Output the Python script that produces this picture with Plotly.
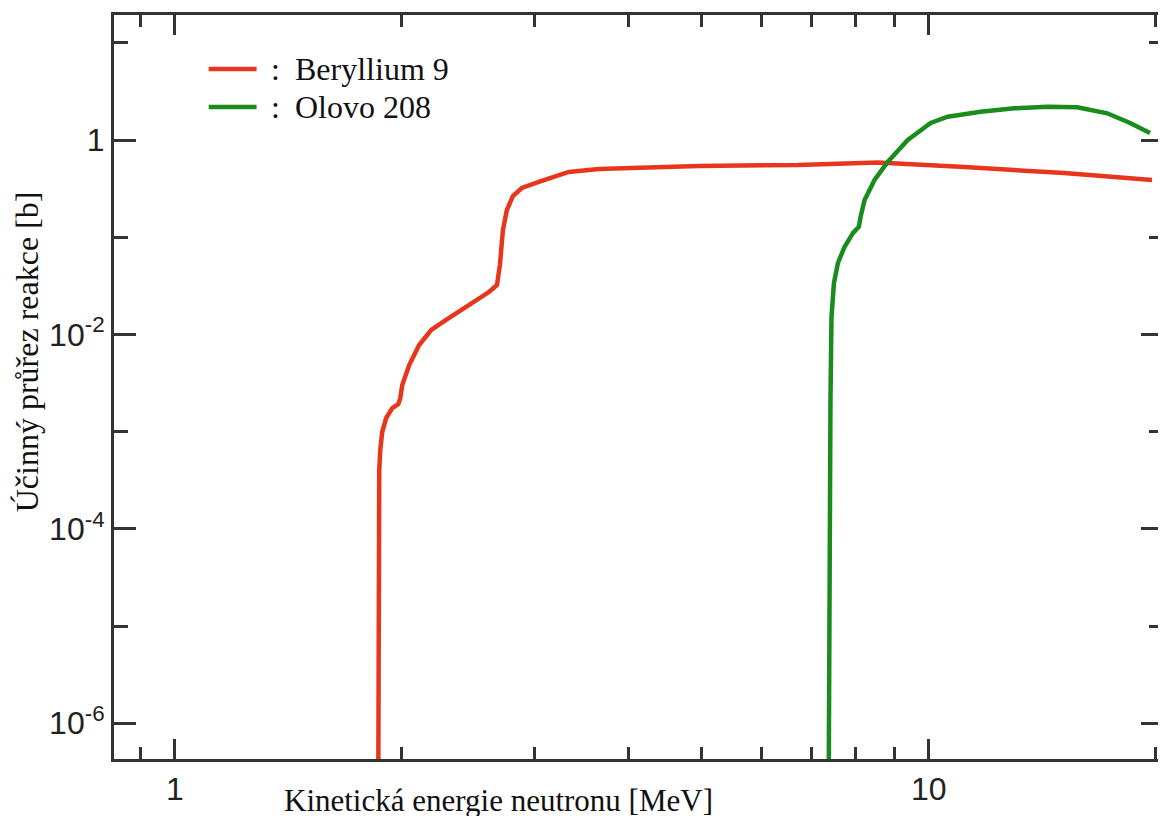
import plotly.graph_objects as go

# ---- data (energy in MeV, cross section in barn) ----
be_energy = [1.861, 1.864, 1.867, 1.873, 1.884, 1.907, 1.943, 1.979, 1.991, 2.003,
             2.046, 2.109, 2.188, 2.290, 2.433, 2.610, 2.675, 2.699, 2.724, 2.757,
             2.808, 2.886, 3.039, 3.331, 3.649, 4.949, 6.709, 8.560, 11.16, 15.13, 19.78]
be_sigma = [1e-7, 1.85e-5, 4.0e-4, 6.5e-4, 9.9e-4, 1.38e-3, 1.75e-3, 1.92e-3, 2.22e-3, 3.02e-3,
            4.84e-3, 7.78e-3, 1.11e-2, 1.41e-2, 1.91e-2, 2.73e-2, 3.22e-2, 5.17e-2, 0.1186, 0.1905,
            0.2655, 0.321, 0.370, 0.469, 0.503, 0.541, 0.553, 0.587, 0.527, 0.457, 0.388]

pb_energy = [7.364, 7.386, 7.408, 7.431, 7.487, 7.579, 7.735, 7.933, 8.079, 8.122,
             8.222, 8.475, 8.828, 9.381, 10.06, 10.60, 11.72, 12.99, 14.37, 15.74,
             17.25, 18.50, 19.66]
pb_sigma = [1e-7, 6.05e-5, 2.11e-3, 1.52e-2, 3.38e-2, 5.43e-2, 7.98e-2, 0.110, 0.128, 0.1625,
            0.241, 0.388, 0.598, 1.0, 1.496, 1.736, 1.955, 2.118, 2.20, 2.174,
            1.883, 1.496, 1.18]

series_names = ["Beryllium 9", "Olovo 208"]
series_colors = ["#e8361c", "#1a8c1e"]

x_major = [1, 10]
x_major_text = ["1", "10"]
x_minor = [0.9, 2, 3, 4, 5, 6, 7, 8, 9, 20]
y_major = [1e-6, 1e-4, 1e-2, 1]
y_major_text = ["10<sup>-6</sup>", "10<sup>-4</sup>", "10<sup>-2</sup>", "1"]
y_minor = [1e-5, 1e-3, 1e-1, 10]

x_title = "Kinetická energie neutronu [MeV]"
y_title = "Účinný průřez reakce [b]"

# ---- layout geometry (pixels); the page body adds an 8 px offset ----
OFF = 8
W, H = 1166 - OFF, 816 - OFF
L, R, T, B = 106, 0, 7, 57
PW, PH = W - L - R, H - T - B


def px(xp):
    return (xp - OFF - L) / PW


def py(yp):
    return (OFF + H - B - yp) / PH


axis_col = "#333333"
serif = "Liberation Serif, Times New Roman, serif"
sans = "Liberation Sans, Arial, Helvetica, sans-serif"

fig = go.Figure()
for xs, ys, name, col in [(be_energy, be_sigma, series_names[0], series_colors[0]),
                          (pb_energy, pb_sigma, series_names[1], series_colors[1])]:
    fig.add_trace(go.Scatter(x=xs, y=ys, mode="lines", name=name,
                             line=dict(color=col, width=4.5), showlegend=False))

fig.update_xaxes(type="log", range=[-0.0807, 1.3108],
                 tickmode="array", tickvals=x_major, ticktext=x_major_text,
                 ticks="inside", ticklen=20, tickwidth=2.5, tickcolor=axis_col,
                 minor=dict(tickmode="array", tickvals=x_minor, ticks="inside",
                            ticklen=12, tickwidth=2.5, tickcolor=axis_col, showgrid=False),
                 showline=True, linewidth=3, linecolor=axis_col, mirror="ticks",
                 showgrid=False, zeroline=False,
                 tickfont=dict(family=sans, size=32, color="#222222"))
fig.update_yaxes(type="log", range=[-6.368, 1.286],
                 tickmode="array", tickvals=y_major, ticktext=y_major_text,
                 ticks="inside", ticklen=22, tickwidth=2.5, tickcolor=axis_col,
                 minor=dict(tickmode="array", tickvals=y_minor, ticks="inside",
                            ticklen=14, tickwidth=2.5, tickcolor=axis_col, showgrid=False),
                 showline=True, linewidth=3, linecolor=axis_col, mirror="ticks",
                 showgrid=False, zeroline=False,
                 tickfont=dict(family=sans, size=32, color="#222222"))

annotations = [
    dict(text=x_title, x=px(500), y=py(800), xref="paper", yref="paper",
         xanchor="center", yanchor="middle", showarrow=False,
         font=dict(family=serif, size=31, color="#111111")),
    dict(text=y_title, x=px(27), y=py(352), xref="paper", yref="paper",
         xanchor="center", yanchor="middle", showarrow=False, textangle=-90,
         font=dict(family=serif, size=32, color="#111111")),
]
shapes = []
for i, (name, col) in enumerate(zip(series_names, series_colors)):
    yy = [69, 107][i]
    shapes.append(dict(type="line", xref="paper", yref="paper",
                       x0=px(209), x1=px(257), y0=py(yy), y1=py(yy),
                       line=dict(color=col, width=4.5)))
    annotations.append(dict(text=":", x=px(276), y=py(yy), xref="paper", yref="paper",
                            xanchor="center", yanchor="middle", showarrow=False,
                            font=dict(family=serif, size=32, color="#111111")))
    annotations.append(dict(text=name, x=px(294), y=py(yy), xref="paper", yref="paper",
                            xanchor="left", yanchor="middle", showarrow=False,
                            font=dict(family=serif, size=32, color="#111111")))

fig.update_layout(width=W, height=H, margin=dict(l=L, r=R, t=T, b=B, pad=0),
                  paper_bgcolor="white", plot_bgcolor="white",
                  annotations=annotations, shapes=shapes, showlegend=False)

fig.write_html("out.html")
